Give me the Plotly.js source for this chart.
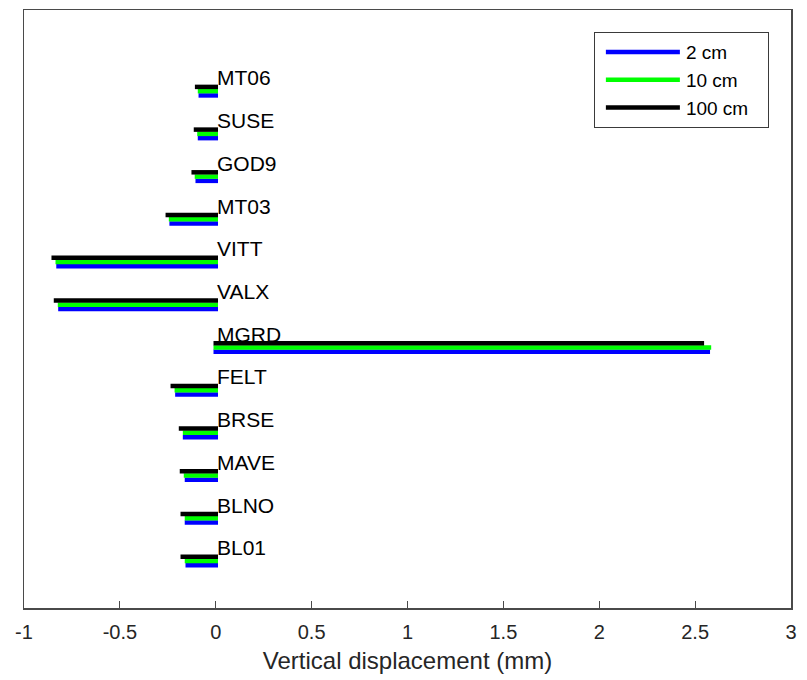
<!DOCTYPE html>
<html>
<head>
<meta charset="utf-8">
<script src="https://cdn.plot.ly/plotly-3.0.1.min.js"></script>
<style>
  html, body { margin: 0; padding: 0; background: #ffffff; }
  #chart { width: 807px; height: 680px; }
  /* displacement segments end with square caps */
  #chart .scatterlayer .js-line { stroke-linecap: square; }
</style>
</head>
<body>
<div id="chart"></div>
<script>
// GNSS stations, bottom to top
const stations = ['BL01', 'BLNO', 'MAVE', 'BRSE', 'FELT', 'MGRD', 'VALX', 'VITT', 'MT03', 'GOD9', 'SUSE', 'MT06'];

// Vertical displacement (mm) for each antenna height
const disp2cm   = [-0.146, -0.150, -0.150, -0.160, -0.200, 2.566, -0.810, -0.820, -0.230, -0.094, -0.082, -0.078];
const disp10cm  = [-0.150, -0.150, -0.155, -0.160, -0.203, 2.572, -0.812, -0.824, -0.233, -0.098, -0.085, -0.082];
const disp100cm = [-0.172, -0.172, -0.176, -0.181, -0.224, 2.535, -0.833, -0.845, -0.250, -0.115, -0.103, -0.097];

const seriesNames = ['2 cm', '10 cm', '100 cm'];

// x-axis ticks
const tickValues = [-1, -0.5, 0, 0.5, 1, 1.5, 2, 2.5, 3];
const tickLabels = ['-1', '-0.5', '0', '0.5', '1', '1.5', '2', '2.5', '3'];

const FONT = 'Liberation Sans, Arial, Helvetica, sans-serif';

// One horizontal segment from 0 to the value per station, slightly staggered in y
function segments(values, yOffset) {
  const x = [], y = [];
  values.forEach((v, i) => {
    const yy = i + 1 + yOffset;
    x.push(0, v, null);
    y.push(yy, yy, null);
  });
  return { x, y };
}

const styles = [
  { color: '#0000ff', offset: 0.0 },
  { color: '#00ff00', offset: 0.1 },
  { color: '#000000', offset: 0.2 }
];
const allSeries = [disp2cm, disp10cm, disp100cm];

const traces = allSeries.map((vals, k) => {
  const s = segments(vals, styles[k].offset);
  return {
    type: 'scatter',
    mode: 'lines',
    name: seriesNames[k],
    x: s.x,
    y: s.y,
    line: { color: styles[k].color, width: 4.5 },
    hoverinfo: 'skip'
  };
});

// Station names written at x = 0 just above each group of lines
const annotations = stations.map((name, i) => ({
  x: 0,
  y: i + 1 + 0.41,
  xref: 'x',
  yref: 'y',
  text: name,
  showarrow: false,
  xanchor: 'left',
  yanchor: 'middle',
  xshift: -1,
  font: { family: FONT, size: 21, color: '#000000' }
}));

// legend sample line: start offset and length inside each item
const LEGEND_LINE_START = 11;
const LEGEND_LINE_LEN = 74;
const LEGEND_RIGHT_PAD = 14;

const layout = {
  width: 807,
  height: 680,
  margin: { l: 24, r: 16, t: 10, b: 72 },
  paper_bgcolor: '#ffffff',
  plot_bgcolor: '#ffffff',
  showlegend: true,
  legend: {
    x: 0.743,
    y: 0.963,
    xanchor: 'left',
    yanchor: 'top',
    bgcolor: '#ffffff',
    bordercolor: '#3a3a3a',
    borderwidth: 1,
    itemwidth: LEGEND_LINE_START + LEGEND_LINE_LEN - 4,
    font: { family: FONT, size: 19, color: '#000000' },
    tracegroupgap: 0
  },
  xaxis: {
    range: [-1, 3],
    tickvals: tickValues,
    ticktext: tickLabels,
    ticks: 'inside',
    ticklen: 7,
    tickwidth: 1.2,
    tickcolor: '#4a4a4a',
    ticklabelstandoff: 5,
    showline: true,
    linecolor: '#4a4a4a',
    linewidth: 1.5,
    mirror: true,
    showgrid: false,
    zeroline: false,
    tickfont: { family: FONT, size: 20, color: '#262626' },
    title: {
      text: 'Vertical displacement (mm)',
      font: { family: FONT, size: 24, color: '#262626' },
      standoff: 10
    }
  },
  yaxis: {
    range: [0, 14],
    showticklabels: false,
    ticks: '',
    showline: true,
    linecolor: '#4a4a4a',
    linewidth: 1.5,
    mirror: true,
    showgrid: false,
    zeroline: false
  },
  annotations: annotations
};

Plotly.newPlot('chart', traces, layout, { staticPlot: true, displayModeBar: false })
  .then(gd => {
    // longer line samples in the legend, filling the item width
    gd.querySelectorAll('.legend .legendlines path').forEach(p => {
      p.setAttribute('d', 'M' + LEGEND_LINE_START + ',0h' + LEGEND_LINE_LEN);
    });
    // a little extra room to the right of the legend labels
    const bg = gd.querySelector('.legend rect.bg');
    if (bg) {
      const w = parseFloat(bg.getAttribute('width'));
      bg.setAttribute('width', w + LEGEND_RIGHT_PAD);
    }
  });
</script>
</body>
</html>
